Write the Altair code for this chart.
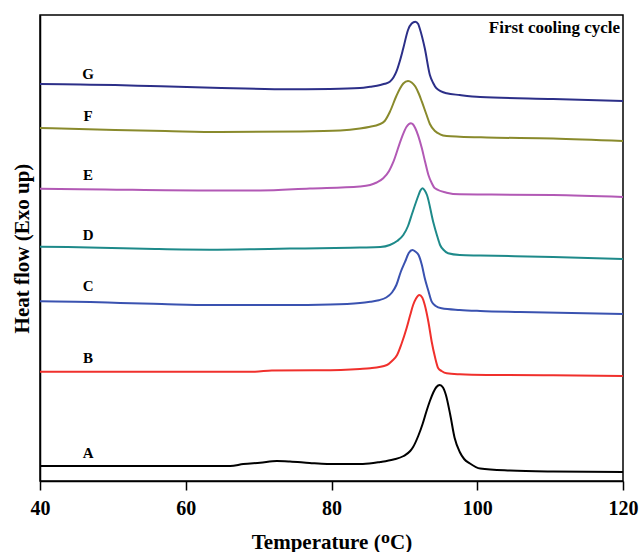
import altair as alt
import pandas as pd

# Temperature (°C) and heat flow (arbitrary, stacked)
A_T = [40.0, 66.1, 67.9, 70.2, 72.5, 74.3, 77.0, 79.4, 84.3, 86.7, 88.5, 89.9, 90.8, 91.2, 91.9, 92.5, 93.0, 93.5, 94.0, 94.4, 94.85, 95.3, 95.7, 96.3, 96.9, 97.6, 98.2, 99.0, 100.4, 104.5, 110.4, 120.0]
A_H = [1.5, 1.5, 1.7, 1.83, 2.0, 1.95, 1.8, 1.7, 1.7, 1.9, 2.15, 2.5, 3.0, 3.4, 4.5, 5.7, 6.9, 8.0, 8.9, 9.4, 9.6, 9.35, 8.6, 6.6, 4.3, 2.9, 2.2, 1.75, 1.25, 1.05, 0.95, 0.9]

B_T = [40.0, 55.1, 69.5, 71.8, 78.4, 83.9, 85.3, 87.6, 88.3, 89.0, 89.6, 90.3, 90.8, 91.2, 91.6, 92.05, 92.45, 92.8, 93.3, 93.75, 94.2, 94.65, 95.1, 95.8, 97.6, 101.3, 110.4, 120.0]
B_H = [10.93, 10.93, 10.93, 11.05, 11.07, 11.2, 11.27, 11.6, 12.0, 12.6, 13.7, 15.27, 16.6, 17.6, 18.25, 18.6, 18.35, 17.6, 15.9, 13.93, 12.4, 11.27, 11.0, 10.77, 10.67, 10.6, 10.57, 10.5]

C_T = [40.0, 46.9, 51.0, 56.7, 63.3, 73.6, 79.8, 83.9, 85.3, 86.5, 87.5, 88.3, 88.9, 89.5, 90.1, 90.6, 91.1, 91.5, 91.95, 92.4, 92.8, 93.3, 93.75, 94.3, 95.1, 97.6, 100.4, 105.9, 120.0]
C_H = [17.97, 17.9, 17.8, 17.7, 17.6, 17.6, 17.65, 17.8, 17.93, 18.08, 18.35, 18.85, 19.6, 20.9, 21.93, 22.8, 23.1, 22.95, 22.6, 21.6, 20.27, 19.0, 17.93, 17.5, 17.27, 17.1, 17.0, 16.9, 16.7]

D_T = [40.0, 43.8, 51.4, 55.8, 63.3, 68.8, 74.3, 78.4, 83.9, 86.7, 88.0, 89.0, 89.85, 90.5, 91.0, 91.95, 92.2, 92.5, 92.8, 93.1, 93.95, 94.5, 94.9, 95.4, 96.0, 97.6, 100.4, 110.4, 120.0]
D_H = [23.43, 23.4, 23.27, 23.2, 23.13, 23.17, 23.25, 23.27, 23.35, 23.4, 23.6, 24.0, 24.6, 25.5, 26.6, 28.6, 29.05, 29.27, 29.05, 28.6, 25.93, 24.5, 23.6, 23.1, 22.77, 22.6, 22.55, 22.4, 22.2]

E_T = [40.0, 48.9, 62.6, 70.2, 77.0, 83.9, 85.3, 86.2, 87.1, 87.9, 88.5, 89.6, 90.3, 90.9, 91.2, 91.5, 92.4, 92.85, 93.3, 93.75, 94.2, 95.8, 97.6, 101.3, 110.4, 120.0]
E_H = [29.23, 29.15, 29.05, 29.05, 29.25, 29.45, 29.6, 29.85, 30.27, 31.0, 31.93, 34.27, 35.43, 35.77, 35.65, 35.27, 33.27, 31.9, 30.6, 29.8, 29.27, 28.83, 28.67, 28.65, 28.6, 28.4]

F_T = [40.0, 50.3, 57.2, 64.7, 75.7, 81.2, 83.9, 85.3, 86.5, 87.3, 88.0, 88.9, 89.4, 89.85, 90.5, 91.0, 91.5, 92.0, 92.4, 93.0, 93.5, 94.2, 94.9, 95.8, 97.6, 101.3, 110.4, 120.0]
F_H = [35.3, 35.1, 35.0, 34.9, 34.95, 35.05, 35.25, 35.43, 35.65, 36.0, 36.9, 38.5, 39.25, 39.75, 40.0, 39.85, 39.45, 38.7, 37.93, 36.7, 35.7, 35.0, 34.67, 34.5, 34.43, 34.35, 34.25, 34.0]

G_T = [40.0, 45.5, 50.3, 55.1, 63.7, 74.3, 79.8, 83.9, 85.3, 86.7, 87.3, 88.0, 88.5, 88.9, 89.4, 89.85, 90.5, 91.0, 91.5, 91.9, 92.1, 92.8, 93.5, 93.95, 94.4, 95.8, 97.6, 100.4, 110.4, 120.0]
G_H = [39.7, 39.65, 39.6, 39.5, 39.33, 39.17, 39.2, 39.3, 39.43, 39.6, 39.72, 39.93, 40.35, 40.93, 42.05, 43.27, 45.1, 45.75, 45.93, 45.7, 45.27, 43.27, 40.6, 39.8, 39.27, 38.77, 38.6, 38.4, 38.2, 38.0]

SERIES = ["A", "B", "C", "D", "E", "F", "G"]
COLORS = ["#000000", "#F0302C", "#3A52B0", "#1E8A8A", "#B259B5", "#898A2C", "#2C2F88"]
LABEL_T = [46.6] * 7
LABEL_H = [2.5, 12.0, 19.2, 24.3, 30.3, 36.2, 40.4]

curves = {"A": (A_T, A_H), "B": (B_T, B_H), "C": (C_T, C_H), "D": (D_T, D_H),
          "E": (E_T, E_H), "F": (F_T, F_H), "G": (G_T, G_H)}
rows = []
for s in SERIES:
    t, h = curves[s]
    for i, (a, b) in enumerate(zip(t, h)):
        rows.append({"sample": s, "T": a, "H": b, "i": i})
df = pd.DataFrame(rows)
lab = pd.DataFrame({"sample": SERIES, "T": LABEL_T, "H": LABEL_H})
note = pd.DataFrame({"T": [119.6], "H": [45.3], "txt": ["First cooling cycle"]})

FONT = "Liberation Serif"
xs = alt.Scale(domain=[40, 120], nice=False, zero=False)
ys = alt.Scale(domain=[0, 46.6], nice=False, zero=False)
cs = alt.Scale(domain=SERIES, range=COLORS)

lines = alt.Chart(df).mark_line(strokeWidth=2, interpolate="monotone").encode(
    x=alt.X("T:Q", scale=xs, title="Temperature (ᴼC)",
            axis=alt.Axis(values=[40, 60, 80, 100, 120], grid=False, tickSize=9,
                          labelFlush=False, labelPadding=8, titlePadding=13)),
    y=alt.Y("H:Q", scale=ys, title="Heat flow (Exo up)",
            axis=alt.Axis(labels=False, ticks=False, grid=False, titlePadding=8)),
    color=alt.Color("sample:N", scale=cs, legend=None),
    detail="sample:N",
    order="i:Q",
)

labels = alt.Chart(lab).mark_text(font=FONT, fontWeight="bold", fontSize=15,
                                  align="center", baseline="bottom", dy=5).encode(
    x=alt.X("T:Q", scale=xs), y=alt.Y("H:Q", scale=ys), text="sample:N",
    color=alt.value("black"))

title_txt = alt.Chart(note).mark_text(font=FONT, fontWeight="bold", fontSize=17,
                                      align="right", baseline="middle").encode(
    x=alt.X("T:Q", scale=xs), y=alt.Y("H:Q", scale=ys), text="txt:N")

chart = alt.layer(lines, labels, title_txt).properties(
    width=583, height=466,
    autosize=alt.AutoSizeParams(type="none"),
    padding={"left": 40, "top": 15, "right": 17, "bottom": 71},
).configure_view(stroke="black", strokeWidth=1.5).configure_axis(
    domainColor="black", domainWidth=1.5, tickColor="black", tickWidth=1.5,
    labelFont=FONT, labelFontSize=20, labelFontWeight="bold", labelColor="black",
    titleFont=FONT, titleFontSize=21, titleFontWeight="bold", titleColor="black",
)

chart.save("out.html", embed_options={"renderer": "svg", "actions": False})
